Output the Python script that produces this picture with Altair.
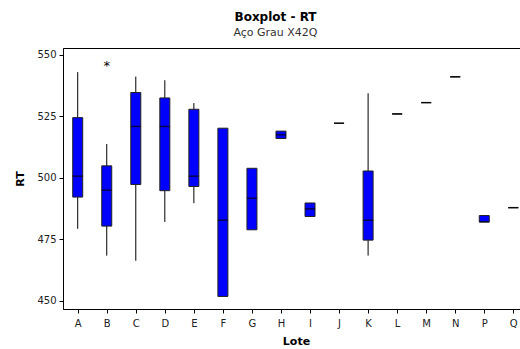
import altair as alt
import pandas as pd

lotes = ["A", "B", "C", "D", "E", "F", "G", "H", "I", "J", "K", "L", "M", "N", "P", "Q"]
w_low = [479.3, 468.4, 466.3, 482.1, 489.7, 451.8, 478.9, 516.0, 484.3, 522.2, 468.4, 526.0, 530.6, 541.1, 482.1, 487.9]
q1 = [492.2, 480.4, 497.3, 494.8, 496.5, 451.8, 478.9, 516.0, 484.3, 522.2, 474.7, 526.0, 530.6, 541.1, 482.1, 487.9]
median = [500.7, 495.0, 520.9, 520.9, 500.7, 482.8, 491.7, 517.5, 487.4, 522.2, 482.8, 526.0, 530.6, 541.1, 482.1, 487.9]
q3 = [524.5, 504.9, 534.7, 532.5, 527.9, 520.2, 503.9, 519.0, 489.8, 522.2, 502.8, 526.0, 530.6, 541.1, 484.7, 487.9]
w_high = [543.0, 513.8, 541.2, 539.7, 530.4, 520.2, 503.9, 519.0, 489.8, 522.2, 534.4, 526.0, 530.6, 541.1, 484.7, 487.9]

out_lote = ["B"]
out_val = [546.9]

df = pd.DataFrame({"lote": lotes, "lo": w_low, "q1": q1, "med": median, "q3": q3, "hi": w_high})
dfo = pd.DataFrame({"lote": out_lote, "v": out_val, "s": ["*"]})

FONT = "DejaVu Sans"

xenc = alt.X("lote:N", sort=lotes,
             scale=alt.Scale(type="point", padding=0.3685, align=0.687),
             axis=alt.Axis(title="Lote", labelAngle=0, tickSize=4, labelPadding=5,
                           titleFontWeight="bold", titleFontSize=11, titlePadding=7, titleX=233))
ysc = alt.Scale(domain=[446.7, 552.8], nice=False, zero=False)
yax = alt.Axis(title="RT", values=[450, 475, 500, 525, 550], tickSize=4, labelPadding=3,
               titleFontWeight="bold", titleFontSize=11, titlePadding=11, grid=False)

base = alt.Chart(df)
whisk = base.mark_rule(color="black", strokeWidth=1).encode(
    x=xenc, y=alt.Y("lo:Q", scale=ysc, axis=yax), y2="hi:Q")
box = base.mark_bar(size=10, color="#0000FF", stroke="#222222", strokeWidth=1).encode(
    x=xenc, y=alt.Y("q1:Q", scale=ysc, axis=yax), y2="q3:Q")
med = base.mark_tick(size=10, thickness=1.5, color="black").encode(
    x=xenc, y=alt.Y("med:Q", scale=ysc, axis=yax))
outl = alt.Chart(dfo).mark_text(fontSize=13, font=FONT, color="black", baseline="middle", dy=3).encode(
    x=xenc, y=alt.Y("v:Q", scale=ysc, axis=yax), text="s:N")

chart = alt.layer(whisk, box, med, outl).properties(
    width=457, height=261,
    title=alt.TitleParams("Boxplot - RT", subtitle="Aço Grau X42Q", anchor="middle",
                          fontSize=12, fontWeight="bold", font=FONT, color="black",
                          subtitleFontSize=11, subtitleFont=FONT, subtitleColor="#333333",
                          subtitlePadding=3, offset=9, dx=-16),
    autosize=alt.AutoSizeParams(type="none"),
    padding={"left": 63, "top": 48, "right": 0, "bottom": 40},
).configure_view(stroke="black", strokeWidth=1).configure_axis(
    labelFont=FONT, titleFont=FONT, labelFontSize=10, labelColor="#222222",
    domainColor="black", tickColor="black", titleColor="black", grid=False
)

chart.save("out.html", embed_options={"renderer": "svg", "actions": False})
